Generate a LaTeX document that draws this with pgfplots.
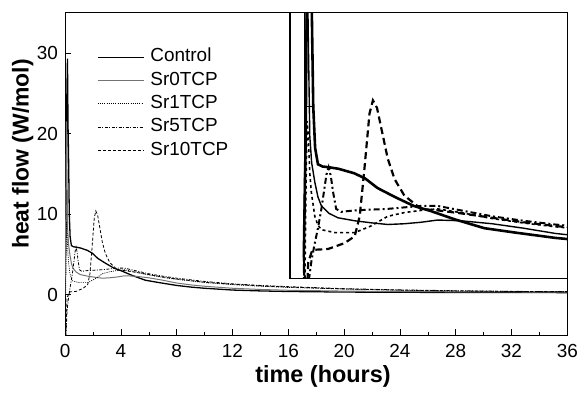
\documentclass[border=0pt]{standalone}
\usepackage{fontspec}
\setmainfont{Liberation Sans}
\usepackage{pgfplots}
\usepackage{pgfplotstable}
\pgfplotsset{compat=1.18}

\pgfplotstableread{
t v
0.00 0.0
0.06 8
0.12 24
0.17 29.3
0.21 21
0.25 17
0.30 10
0.36 7.2
0.45 6.1
0.60 5.95
0.80 5.9
1.10 5.8
1.60 5.5
1.95 5.15
2.35 4.5
2.90 3.9
3.50 3.3
4.05 2.95
4.80 2.4
5.75 1.8
6.75 1.5
8.00 1.15
9.00 0.95
10.0 0.8
12.0 0.58
14.0 0.47
16.0 0.4
20.0 0.33
24.0 0.3
28.0 0.28
32.0 0.27
36.0 0.26
}\control

\pgfplotstableread{
t v
0.00 0.0
0.05 10
0.10 21.5
0.14 15
0.19 8
0.25 6.2
0.35 4.9
0.45 3.9
0.56 3.3
0.80 2.8
1.09 2.5
1.62 2.3
2.20 2.15
2.67 2.05
3.20 2.1
3.73 2.2
4.26 2.35
5.00 2.3
6.00 2.1
7.00 1.8
8.00 1.45
9.00 1.22
10.0 1.05
12.0 0.8
14.0 0.65
16.0 0.55
20.0 0.45
24.0 0.4
28.0 0.36
32.0 0.34
36.0 0.32
}\srzero

\pgfplotstableread{
t v
0.00 0.0
0.03 -3
0.06 3
0.10 9
0.14 8.1
0.19 5.5
0.24 4.2
0.35 2.6
0.45 2.0
0.56 1.7
1.00 1.5
1.62 1.5
2.14 1.95
2.67 2.6
3.20 2.85
3.73 3.0
4.26 3.1
5.00 2.85
6.00 2.45
7.00 2.15
8.00 1.9
10.0 1.5
12.0 1.25
14.0 1.05
16.0 0.9
20.0 0.7
24.0 0.55
28.0 0.45
32.0 0.4
36.0 0.36
}\srone

\pgfplotstableread{
t v
0.00 0.0
0.04 -6
0.14 -2
0.25 -0.3
0.35 0.8
0.45 1.8
0.56 3.1
0.72 5.4
0.79 5.9
0.86 5.3
0.93 4.25
1.03 3.1
1.19 2.9
1.62 3.0
2.67 3.1
3.73 3.3
4.26 3.3
5.00 3.0
6.00 2.6
7.00 2.3
8.00 2.05
10.0 1.65
12.0 1.35
14.0 1.15
16.0 1.0
20.0 0.75
24.0 0.6
28.0 0.5
32.0 0.42
36.0 0.38
}\srfive

\pgfplotstableread{
t v
0.00 0.0
0.03 -6
0.14 -0.5
0.25 0.2
0.35 0.35
0.77 0.4
1.30 0.8
1.62 1.26
1.78 2.6
1.93 5.8
2.09 9.5
2.20 10.4
2.33 9.9
2.51 8.1
2.67 6.5
2.89 5.1
3.20 4.0
3.73 3.1
4.26 3.0
5.00 2.8
6.00 2.5
7.00 2.2
8.00 1.95
10.0 1.55
12.0 1.3
14.0 1.1
16.0 0.95
20.0 0.72
24.0 0.57
28.0 0.47
32.0 0.41
36.0 0.36
}\srten

\begin{document}
\begin{tikzpicture}
\begin{axis}[
  at={(65.1bp,61bp)}, anchor=south west,
  width=502.2bp, height=322.3bp, scale only axis,
  xmin=0, xmax=36, ymin=-5, ymax=35,
  xtick={0,4,...,36}, minor xtick={2,6,...,34},
  ytick={0,10,20,30},
  xtick pos=bottom, ytick pos=left,
  tick align=inside,
  major tick length=6bp, minor tick length=3.5bp,
  tick style={black, line width=0.6pt},
  axis line style={black, line width=0.8pt},
  /pgf/number format/assume math mode=true,
  ticklabel style={font=\fontsize{19}{22}\selectfont, inner sep=0pt},
  xticklabel style={yshift=-9bp},
  yticklabel style={xshift=-7bp},
  xlabel={time (hours)},
  ylabel={heat flow (W/mol)},
  xlabel style={font=\fontsize{23.5}{26}\selectfont\bfseries, inner sep=0pt,
    at={(axis description cs:0.5135,-0.093)}, anchor=north},
  ylabel style={font=\fontsize{23}{26}\selectfont\bfseries, inner sep=0pt,
    at={(axis description cs:-0.063,0.5616)}, anchor=south},
  legend cell align=left,
  legend image code/.code={\draw[#1] (0bp,0bp) -- (46bp,0bp);},
  legend style={draw=none, fill=none, at={(axis description cs:0.0575,0.905)},
    anchor=north west, font=\fontsize{19}{22}\selectfont,
    row sep=0pt, column sep=6bp,
    nodes={inner sep=0pt, text height=16.3bp, text depth=7bp}},
]
\addplot[black, line width=1.3pt] table[x=t,y=v]{\control};
\addlegendentry{Control}
\addplot[black!55, line width=1.0pt] table[x=t,y=v]{\srzero};
\addlegendentry{Sr0TCP}
\addplot[black, line width=0.7pt, dash pattern=on 1pt off 1.2pt] table[x=t,y=v]{\srone};
\addlegendentry{Sr1TCP}
\addplot[black, line width=0.8pt, dash pattern=on 3pt off 1.5pt on 1pt off 1.5pt] table[x=t,y=v]{\srfive};
\addlegendentry{Sr5TCP}
\addplot[black, line width=0.8pt, dash pattern=on 3pt off 2pt] table[x=t,y=v]{\srten};
\addlegendentry{Sr10TCP}
\end{axis}
\begin{axis}[
  at={(290bp,117.7bp)}, anchor=south west,
  width=277.3bp, height=265.6bp, scale only axis,
  xmin=-0.44, xmax=8.39, ymin=-1.57, ymax=16.3,
  xtick=\empty, ytick=\empty,
  extra x ticks={0}, extra x tick labels={},
  extra x tick style={grid=major, major grid style={black, line width=0.5pt}, major tick length=0pt},
  axis line style={black, line width=1.2pt},
  axis background/.style={fill=white},
  clip=true,
]
\addplot[black, line width=1.4pt] table[x=t,y=v]{\srzero};
\addplot[black, line width=1.6pt, dash pattern=on 3pt off 3pt] table[x=t,y=v]{\srone};
\addplot[black, line width=2pt, dash pattern=on 6pt off 3pt on 2pt off 3pt] table[x=t,y=v]{\srfive};
\addplot[black, line width=2.2pt, dash pattern=on 7pt off 4pt] table[x=t,y=v]{\srten};
\addplot[black, line width=2.6pt] table[x=t,y=v]{\control};
\draw[black, line width=0.6pt] (axis cs:0,10) -- ++(10bp,0bp);
\end{axis}
\pgfresetboundingbox
\useasboundingbox (0bp,0bp) rectangle (581bp,396bp);
\end{tikzpicture}
\end{document}
